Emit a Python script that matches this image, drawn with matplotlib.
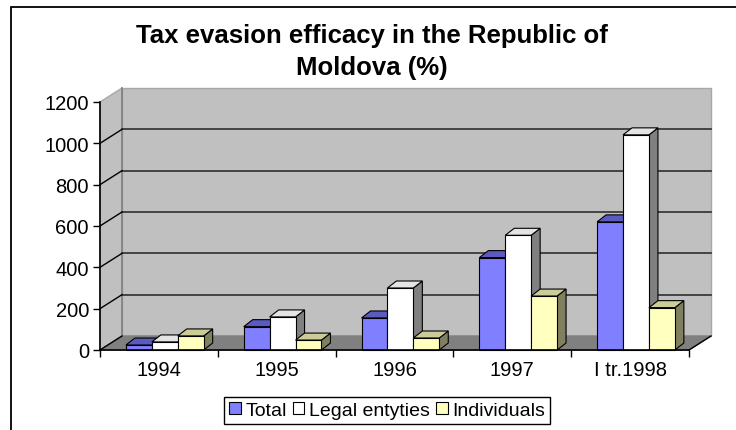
import numpy as np
import matplotlib.pyplot as plt
from matplotlib.patches import Polygon, Rectangle, Patch

plt.rcParams['font.family'] = ['Liberation Sans', 'DejaVu Sans']

#===========================================
# data
years       = ['1994', '1995', '1996', '1997', 'I tr.1998']
series      = ['Total', 'Legal entyties', 'Individuals']
total       = [24, 113, 155, 447, 620]
legal       = [39, 160, 300, 555, 1041]
individuals = [68, 48, 58, 261, 205]
y_ticks     = [0, 200, 400, 600, 800, 1000, 1200]

# front, top, side colour for each series
colors = [('#8080ff', '#5a5ac0', '#404099'),
          ('#ffffff', '#e4e4e4', '#808080'),
          ('#ffffc0', '#cccc99', '#808060')]

#===========================================
W, H = 736, 431
fig = plt.figure(figsize=(W/100, H/100), dpi=100)
ax = fig.add_axes([100/W, (H-351)/H, 589/W, 248/H])
ax.set_xlim(0, len(years))
ax.set_ylim(0, 1200)
ax.patch.set_visible(False)

n = len(years)
ymax = y_ticks[-1]
# px -> data units, for the fake 3D depth
px_x = 589/n
px_y = 248/ymax
wdx, wdy = 22/px_x, 14/px_y     # wall depth
bdx, bdy = 9/px_x, 7/px_y       # bar depth

def poly(pts, fc, ec, lw=1.0, z=1):
    ax.add_patch(Polygon(pts, closed=True, fc=fc, ec=ec, lw=lw, zorder=z, clip_on=False))

def line(p, q, c, lw=1.0, z=1.5):
    ax.plot([p[0], q[0]], [p[1], q[1]], color=c, lw=lw, zorder=z, clip_on=False)

# walls and floor
poly([(wdx, wdy), (n+wdx, wdy), (n+wdx, ymax+wdy), (wdx, ymax+wdy)], '#c0c0c0', '#a8a8a8')
poly([(0, 0), (wdx, wdy), (wdx, ymax+wdy), (0, ymax)], '#c0c0c0', '#a8a8a8')
line((wdx, wdy), (wdx, ymax+wdy), '#808080', 1.2)
for v in y_ticks[1:-1]:
    line((wdx, v+wdy), (n+wdx, v+wdy), '#3a3a3a', 1.3)
    line((0, v), (wdx, v+wdy), 'black', 1.0)
poly([(0, 0), (n, 0), (n+wdx, wdy), (wdx, wdy)], '#808080', '#808080')
line((0, 0), (wdx, wdy), 'black', 1.0, 1.6)
line((n, 0), (n+wdx, wdy), 'black', 1.0, 1.6)

# bars
bw = 0.22
for i in range(n):
    for j, vals in enumerate([total, legal, individuals]):
        h = vals[i]
        x0 = i + bw + j*bw
        front, top, side = colors[j]
        z = 3 + i*3 + j
        poly([(x0+bw, 0), (x0+bw+bdx, bdy), (x0+bw+bdx, h+bdy), (x0+bw, h)], side, 'black', 0.8, z)
        poly([(x0, h), (x0+bw, h), (x0+bw+bdx, h+bdy), (x0+bdx, h+bdy)], top, 'black', 0.8, z)
        poly([(x0, 0), (x0+bw, 0), (x0+bw, h), (x0, h)], front, 'black', 0.8, z)

# axes
for s in ['top', 'right']:
    ax.spines[s].set_visible(False)
ax.spines['left'].set_linewidth(1.2)
ax.spines['bottom'].set_linewidth(1.2)
ax.spines['bottom'].set_zorder(50)
ax.set_yticks(y_ticks)
ax.tick_params(axis='y', length=5, width=1, labelsize=14.5, pad=3)
ax.set_xticks(np.arange(n) + 0.5)
ax.set_xticklabels(years)
ax.set_xticks(np.arange(n+1), minor=True)
ax.tick_params(axis='x', which='major', length=0, labelsize=14.5, pad=7)
ax.tick_params(axis='x', which='minor', length=5, width=1)

fig.text(372/W, 1-36/H, 'Tax evasion efficacy in the Republic of',
         ha='center', va='center', fontsize=18.5, fontweight='bold')
fig.text(372/W, 1-68/H, 'Moldova (%)',
         ha='center', va='center', fontsize=18.5, fontweight='bold')

handles = [Patch(fc=c[0], ec='black', lw=0.8, label=s) for c, s in zip(colors, series)]
leg = fig.legend(handles=handles, loc='upper left', bbox_to_anchor=(224/W, 1-398/H),
                 ncol=3, frameon=True, fancybox=False, edgecolor='black', framealpha=1,
                 handlelength=0.6, handleheight=0.6, handletextpad=0.25,
                 columnspacing=0.3, fontsize=14, borderaxespad=0, borderpad=0.25)
leg.get_frame().set_linewidth(1.0)

# chart border, cut by the image edge on the right and bottom
fig.patches.append(Rectangle((11/W, -0.1), 1.2, 1.1-8/H, transform=fig.transFigure,
                             fill=False, ec='black', lw=1.3))

fig.savefig('out.png', dpi=100)
